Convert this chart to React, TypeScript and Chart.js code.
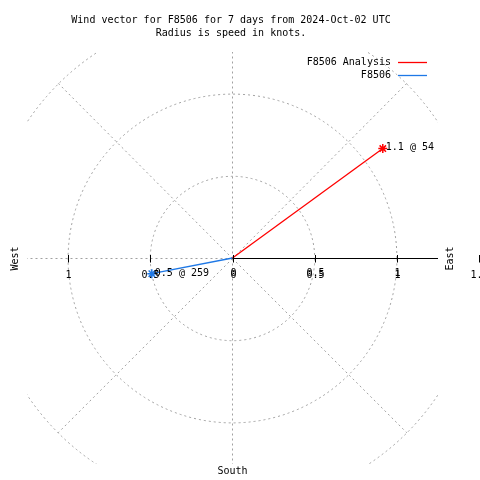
import React, { useEffect, useRef } from "react";
import { Chart, registerables } from "chart.js";

Chart.register(...registerables);

const titleLines = ["Wind vector for F8506 for 7 days from 2024-Oct-02 UTC", "Radius is speed in knots."];
const seriesNames = ["F8506 Analysis", "F8506"];
const speeds = [1.13, 0.5];
const directions = [54, 259];
const seriesColors = ["#ff0000", "#1e78e6"];
const rings = [0.5, 1, 1.5];
const spokeBearings = [0, 45, 90, 135, 180, 225, 270, 315];
const eastTicks = [0, 0.5, 1];
const eastTickLabels = ["0", "0.5", "1"];
const farTick = [1.5];
const farTickLabels = ["1.5"];
const westTicks = [0.5, 1];
const westTickLabels = ["0.5", "1"];
const axisRange = [-1.25, 1.25];

const FONT = '11px "DejaVu Sans Mono", "Liberation Mono", monospace';
const SX = 0.91;
const GRID = "#a0a0a0";

const rad = (d: number) => (d * Math.PI) / 180;

function txt(ctx: any, s: string, x: number, y: number, align: string, rot = 0) {
  ctx.save();
  ctx.translate(x, y);
  if (rot) ctx.rotate(rot);
  ctx.scale(SX, 1);
  ctx.font = FONT;
  ctx.textAlign = align;
  ctx.textBaseline = "middle";
  ctx.fillStyle = "#000";
  ctx.fillText(s, 0, 0);
  ctx.restore();
}

const polarPlugin = {
  id: "polarGrid",
  beforeDatasetsDraw(chart: any) {
    const { ctx, chartArea, scales } = chart;
    const xs = scales.x, ys = scales.y;
    const cx = xs.getPixelForValue(0);
    const cy = Math.floor(ys.getPixelForValue(0)) + 0.5;
    ctx.save();
    ctx.beginPath();
    ctx.rect(chartArea.left, chartArea.top, chartArea.right - chartArea.left, chartArea.bottom - chartArea.top);
    ctx.clip();
    ctx.strokeStyle = GRID;
    ctx.lineWidth = 1;
    ctx.setLineDash([2, 3]);
    rings.forEach((r) => {
      const rp = xs.getPixelForValue(r) - xs.getPixelForValue(0);
      ctx.beginPath();
      ctx.arc(cx, cy, rp, 0, Math.PI * 2);
      ctx.stroke();
    });
    const rMax = rings[rings.length - 1];
    spokeBearings.forEach((b) => {
      let ex = xs.getPixelForValue(rMax * Math.sin(rad(b)));
      let ey = ys.getPixelForValue(rMax * Math.cos(rad(b)));
      if (b % 180 === 0) ex = cx;
      if (b % 180 === 90) ey = cy;
      ctx.beginPath();
      ctx.moveTo(cx, cy);
      ctx.lineTo(ex, ey);
      ctx.stroke();
    });
    ctx.restore();
  },
  afterDatasetsDraw(chart: any) {
    const { ctx, chartArea, scales } = chart;
    const xs = scales.x, ys = scales.y;
    const cx = xs.getPixelForValue(0);
    const cy = Math.floor(ys.getPixelForValue(0)) + 0.5;
    ctx.save();
    ctx.strokeStyle = "#000";
    ctx.lineWidth = 1;
    ctx.setLineDash([]);
    ctx.beginPath();
    ctx.moveTo(cx, cy);
    ctx.lineTo(chartArea.right, cy);
    ctx.stroke();
    const tick = (v: number) => {
      const px = Math.round(xs.getPixelForValue(v)) + 0.5;
      ctx.beginPath();
      ctx.moveTo(px, cy - 3.5);
      ctx.lineTo(px, cy + 4);
      ctx.stroke();
      return px;
    };
    eastTicks.forEach((v, i) => {
      const px = tick(v);
      txt(ctx, eastTickLabels[i], px, cy + 15, "center");
      txt(ctx, eastTickLabels[i], px, cy + 17, "center");
    });
    farTick.forEach((v, i) => {
      const px = tick(v);
      txt(ctx, farTickLabels[i], px, cy + 17, "center");
    });
    westTicks.forEach((v, i) => {
      const px = tick(-v);
      txt(ctx, westTickLabels[i], px, cy + 17, "center");
    });
    chart.data.datasets.forEach((ds: any, i: number) => {
      const p = chart.getDatasetMeta(i).data[1];
      txt(ctx, `${speeds[i].toFixed(1)} @ ${directions[i]}`, p.x + 3, p.y - 1, "left");
    });
    txt(ctx, "South", cx, chartArea.bottom + 7, "center");
    txt(ctx, "West", 15, cy, "center", -Math.PI / 2);
    txt(ctx, "East", 450, cy, "center", -Math.PI / 2);
    titleLines.forEach((t, i) => txt(ctx, t, 231, 20 + i * 13, "center"));
    seriesNames.forEach((n, i) => {
      const ly = 62.5 + i * 13;
      txt(ctx, n, 391, ly, "right");
      ctx.strokeStyle = seriesColors[i];
      ctx.lineWidth = 1.3;
      ctx.beginPath();
      ctx.moveTo(398, Math.floor(ly) + 0.5);
      ctx.lineTo(427, Math.floor(ly) + 0.5);
      ctx.stroke();
    });
    ctx.restore();
  },
};

export default function App() {
  const ref = useRef<HTMLCanvasElement>(null);
  useEffect(() => {
    if (!ref.current) return;
    const datasets = seriesNames.map((name, i) => ({
      label: name,
      data: [
        { x: 0, y: 0 },
        { x: speeds[i] * Math.sin(rad(directions[i])), y: speeds[i] * Math.cos(rad(directions[i])) },
      ],
      showLine: true,
      borderColor: seriesColors[i],
      backgroundColor: seriesColors[i],
      borderWidth: 1.3,
      pointStyle: "star" as const,
      pointRadius: [0, 4.5],
      pointBorderWidth: 1.5,
      pointBorderColor: seriesColors[i],
    }));
    const chart = new Chart(ref.current, {
      type: "scatter",
      data: { datasets },
      options: {
        responsive: false,
        animation: false,
        layout: { padding: { left: 27, right: 42, top: 52, bottom: 16 } },
        scales: {
          x: { type: "linear", min: axisRange[0], max: axisRange[1], display: false },
          y: { type: "linear", min: axisRange[0], max: axisRange[1], display: false },
        },
        plugins: { legend: { display: false }, title: { display: false }, tooltip: { enabled: false } },
      },
      plugins: [polarPlugin],
    });
    return () => chart.destroy();
  }, []);
  return (
    <div style={{ position: "fixed", left: 0, top: 0, width: 480, height: 480, background: "#fff" }}>
      <canvas ref={ref} width={480} height={480} style={{ display: "block" }} />
    </div>
  );
}
